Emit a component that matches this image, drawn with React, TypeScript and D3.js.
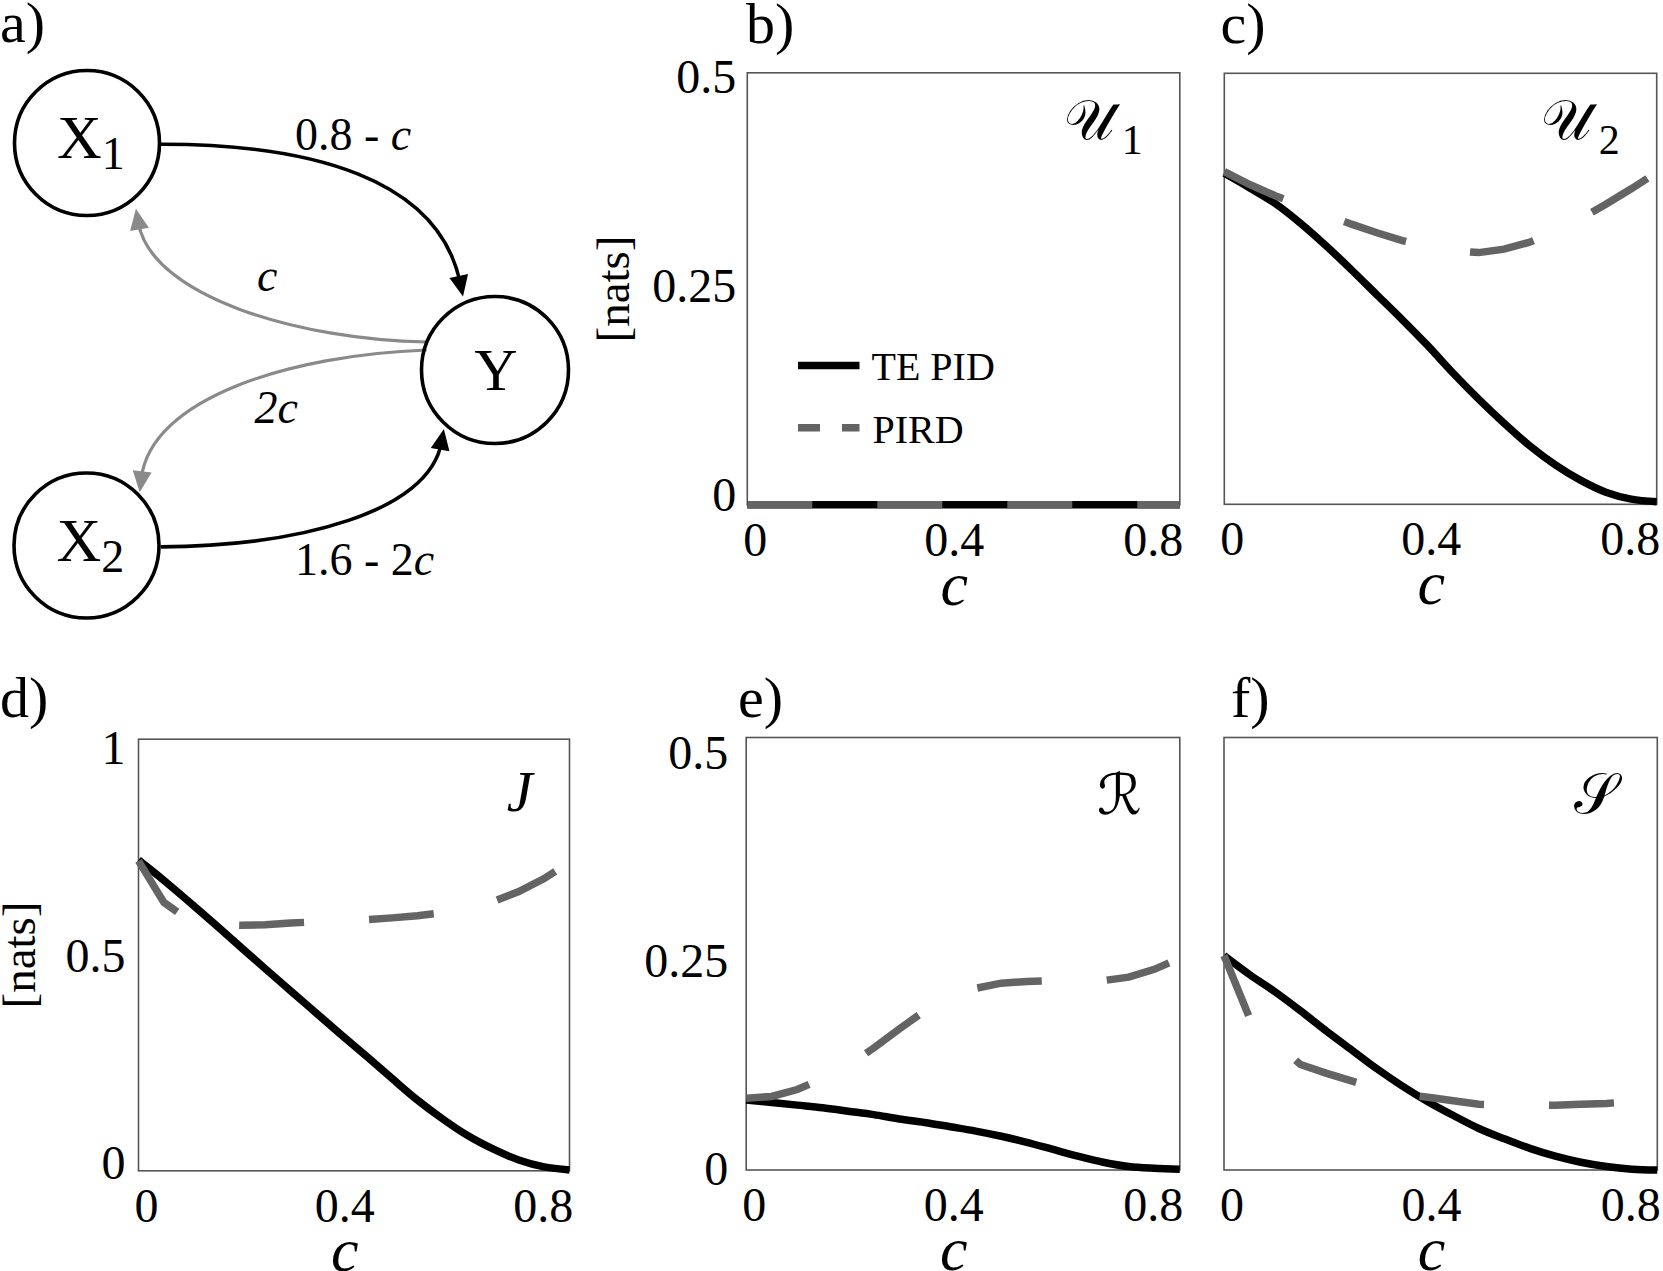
import React from "react";
import * as d3 from "d3";

// ---------- data ----------
const cValues = [0, 0.05, 0.1, 0.15, 0.2, 0.25, 0.3, 0.35, 0.4, 0.45, 0.5, 0.55, 0.6, 0.65, 0.7, 0.75, 0.8, 0.85];

const u1TePid = [0, 0, 0, 0, 0, 0, 0, 0, 0, 0, 0, 0, 0, 0, 0, 0, 0, 0];
const u1Pird = [0, 0, 0, 0, 0, 0, 0, 0, 0, 0, 0, 0, 0, 0, 0, 0, 0, 0];
const u2TePid = [0.384, 0.367, 0.349, 0.326, 0.3, 0.272, 0.243, 0.214, 0.184, 0.152, 0.122, 0.094, 0.068, 0.046, 0.028, 0.014, 0.006, 0.003];
const u2Pird = [0.386, 0.371, 0.358, 0.347, 0.336, 0.325, 0.315, 0.306, 0.299, 0.294, 0.292, 0.296, 0.304, 0.316, 0.331, 0.348, 0.366, 0.385];
const jTePid = [0.72, 0.673, 0.623, 0.572, 0.52, 0.468, 0.417, 0.366, 0.315, 0.265, 0.214, 0.164, 0.12, 0.081, 0.05, 0.025, 0.009, 0.002];
const jPird = [0.718, 0.622, 0.58, 0.571, 0.569, 0.57, 0.574, 0.577, 0.579, 0.582, 0.586, 0.591, 0.598, 0.607, 0.624, 0.647, 0.677, 0.715];
const rTePid = [0.081, 0.078, 0.075, 0.072, 0.068, 0.064, 0.059, 0.055, 0.05, 0.045, 0.039, 0.032, 0.024, 0.016, 0.009, 0.004, 0.002, 0.001];
const rPird = [0.083, 0.085, 0.093, 0.106, 0.121, 0.141, 0.163, 0.184, 0.2, 0.21, 0.216, 0.218, 0.219, 0.219, 0.219, 0.223, 0.232, 0.245];
const sTePid = [0.248, 0.226, 0.206, 0.184, 0.161, 0.139, 0.117, 0.097, 0.079, 0.063, 0.048, 0.036, 0.025, 0.016, 0.009, 0.004, 0.001, 0.0];
const sPird = [0.248, 0.176, 0.148, 0.122, 0.112, 0.103, 0.094, 0.088, 0.084, 0.08, 0.076, 0.075, 0.075, 0.075, 0.076, 0.077, 0.079, 0.081];

const xTicks = [0, 0.4, 0.8];
const xTickLabels = ["0", "0.4", "0.8"];
const yTicksHalf = [0, 0.25, 0.5];
const yTickLabelsHalf = ["0", "0.25", "0.5"];
const yTicksOne = [0, 0.5, 1];
const yTickLabelsOne = ["0", "0.5", "1"];
const seriesNames = ["TE PID", "PIRD"];
const yAxisTitle = "[nats]";
const xAxisTitle = "c";

// ---------- style ----------
const SERIF = "Liberation Serif, Times New Roman, Times, serif";
const SCRIPT = "DejaVu Serif, DejaVu Sans, Noto Sans, serif";
const GRAY = "#646464";
const LW = 7.5;
const DASH = "65 65";

type Box = { x: number; y: number; w: number; h: number };

function Panel(props: {
  box: Box;
  yMax: number;
  te: number[];
  pird: number[];
  yTicks?: number[];
  yLabels?: string[];
  yLabInset?: [number, number];
  yLabGap?: number;
  symbol: React.ReactNode;
  letter: string;
  letterPos: [number, number];
  nats?: [number, number];
  legend?: boolean;
}) {
  const { box, yMax, te, pird } = props;
  const x = d3.scaleLinear().domain([0, 0.85]).range([box.x, box.x + box.w]);
  const y = d3.scaleLinear().domain([0, yMax]).range([box.y + box.h, box.y]);
  const labX = d3.scaleLinear().domain([0, 0.8]).range([x(0) + 8, x(0.8) - 1]);
  const inset = props.yLabInset || [9, 5];
  const labY = d3.scaleLinear().domain([0, yMax]).range([box.y + box.h - inset[0], box.y + inset[1]]);
  const line = d3
    .line<number>()
    .x((_, i) => x(cValues[i]))
    .y((v) => y(v));
  const smooth = d3
    .line<number>()
    .x((_, i) => x(cValues[i]))
    .y((v) => y(v))
    .curve(d3.curveMonotoneX);
  const bottom = box.y + box.h;
  return (
    <g>
      <rect x={box.x} y={box.y} width={box.w} height={box.h} fill="none" stroke="#555" strokeWidth={1.6} />
      <path d={smooth(te) || ""} fill="none" stroke="#000" strokeWidth={LW} />
      <path d={line(pird) || ""} fill="none" stroke={GRAY} strokeWidth={LW} strokeDasharray={DASH} />
      {xTicks.map((t, i) => (
        <text key={"xt" + i} x={labX(t)} y={bottom + 51} textAnchor="middle" fontFamily={SERIF} fontSize={48}>
          {xTickLabels[i]}
        </text>
      ))}
      <text x={labX(0.4)} y={bottom + 100} textAnchor="middle" fontFamily={SERIF} fontStyle="italic" fontSize={62}>
        {xAxisTitle}
      </text>
      {props.yTicks &&
        props.yTicks.map((t, i) => (
          <text
            key={"yt" + i}
            x={box.x - (props.yLabGap || 12)}
            y={labY(t) + 16}
            textAnchor="end"
            fontFamily={SERIF}
            fontSize={48}
          >
            {props.yLabels![i]}
          </text>
        ))}
      {props.nats && (
        <text
          transform={`translate(${props.nats[0]},${props.nats[1]}) rotate(-90)`}
          textAnchor="middle"
          fontFamily={SERIF}
          fontSize={47}
        >
          {yAxisTitle}
        </text>
      )}
      <text x={props.letterPos[0]} y={props.letterPos[1]} fontFamily={SERIF} fontSize={58}>
        {props.letter}
      </text>
      {props.symbol}
      {props.legend && (
        <g>
          <line x1={798} x2={859.5} y1={365.6} y2={365.6} stroke="#000" strokeWidth={LW} />
          <text x={871.5} y={380.4} fontFamily={SERIF} fontSize={40}>
            {seriesNames[0]}
          </text>
          <line x1={798} x2={859.5} y1={427.7} y2={427.7} stroke={GRAY} strokeWidth={LW} strokeDasharray="22 22" />
          <text x={872.5} y={442.5} fontFamily={SERIF} fontSize={40}>
            {seriesNames[1]}
          </text>
        </g>
      )}
    </g>
  );
}

function UScript({ box, sub }: { box: Box; sub: string }) {
  const r = box.x + box.w;
  return (
    <g>
      <text x={r - 66} y={box.y + 66} textAnchor="end" fontFamily={SCRIPT} fontSize={56}>
        {"\u{1D4B0}"}
      </text>
      <text x={r - 37} y={box.y + 81} textAnchor="end" fontFamily={SERIF} fontSize={42}>
        {sub}
      </text>
    </g>
  );
}

// ---------- diagram (panel a) ----------
type P = [number, number];
const edges: { pts: P[]; color: string; w: number }[] = [
  { pts: [[160.7, 144.3], [310, 144], [440, 185], [463, 296.6]], color: "#000", w: 3.6 },
  { pts: [[426.7, 342], [300, 340], [150, 290], [135.9, 208.8]], color: "#8a8a8a", w: 3.2 },
  { pts: [[426.7, 350], [290, 355], [150, 405], [139.7, 492.3]], color: "#8a8a8a", w: 3.2 },
  { pts: [[160.7, 546.9], [300, 546], [430, 505], [443.9, 429]], color: "#000", w: 3.6 },
];

function Edge({ pts, color, w }: { pts: P[]; color: string; w: number }) {
  const [p0, c1, c2, e] = pts;
  const dx = e[0] - c2[0];
  const dy = e[1] - c2[1];
  const L = Math.hypot(dx, dy);
  const ux = dx / L;
  const uy = dy / L;
  const back = 14;
  const end: P = [e[0] - ux * back, e[1] - uy * back];
  const c2b: P = [c2[0] - ux * back * 0.5, c2[1] - uy * back * 0.5];
  const path = d3.path();
  path.moveTo(p0[0], p0[1]);
  path.bezierCurveTo(c1[0], c1[1], c2b[0], c2b[1], end[0], end[1]);
  const len = 21;
  const half = 9.5;
  const bx = e[0] - ux * len;
  const by = e[1] - uy * len;
  const tri = `M${e[0]},${e[1]} L${bx - uy * half},${by + ux * half} L${bx + uy * half},${by - ux * half} Z`;
  return (
    <g>
      <path d={path.toString()} fill="none" stroke={color} strokeWidth={w} />
      <path d={tri} fill={color} stroke="none" />
    </g>
  );
}

function Diagram() {
  const nodes = [
    { cx: 87, cy: 143, r: 72.5, main: "X", sub: "1" },
    { cx: 86.5, cy: 545.5, r: 72.5, main: "X", sub: "2" },
    { cx: 495, cy: 370, r: 73.5, main: "Y", sub: "" },
  ];
  return (
    <g>
      {edges.map((e, i) => (
        <Edge key={i} {...e} />
      ))}
      {nodes.map((n, i) => (
        <g key={i}>
          <circle cx={n.cx} cy={n.cy} r={n.r} fill="none" stroke="#000" strokeWidth={3.6} />
          {n.sub ? (
            <text x={n.cx - 30} y={n.cy + 15} fontFamily={SERIF} fontSize={62}>
              {n.main}
              <tspan fontSize={46} dy={11}>
                {n.sub}
              </tspan>
            </text>
          ) : (
            <text x={n.cx + 1} y={n.cy + 19.5} textAnchor="middle" fontFamily={SERIF} fontSize={60}>
              {n.main}
            </text>
          )}
        </g>
      ))}
      <text x={295} y={150} fontFamily={SERIF} fontSize={46}>
        0.8 - <tspan fontStyle="italic">c</tspan>
      </text>
      <text x={257} y={290.5} fontFamily={SERIF} fontStyle="italic" fontSize={46}>
        c
      </text>
      <text x={254.5} y={423} fontFamily={SERIF} fontStyle="italic" fontSize={46}>
        2c
      </text>
      <text x={295} y={575} fontFamily={SERIF} fontSize={46}>
        1.6 - 2<tspan fontStyle="italic">c</tspan>
      </text>
      <text x={0} y={42} fontFamily={SERIF} fontSize={58}>
        a)
      </text>
    </g>
  );
}

export default function App() {
  const bBox: Box = { x: 747.3, y: 72.8, w: 432.5, h: 432 };
  const cBox: Box = { x: 1224.3, y: 73.3, w: 432.4, h: 431 };
  const dBox: Box = { x: 138.5, y: 739.2, w: 431, h: 431.6 };
  const eBox: Box = { x: 746.2, y: 737.5, w: 433.6, h: 432.5 };
  const fBox: Box = { x: 1224, y: 737.5, w: 433.3, h: 432.5 };
  return (
    <svg
      width={1663}
      height={1271}
      viewBox="0 0 1663 1271"
      style={{ position: "absolute", left: 0, top: 0, background: "#fff" }}
    >
      <rect x={0} y={0} width={1663} height={1271} fill="#fff" />
      <Diagram />
      <Panel
        box={bBox}
        yMax={0.5}
        te={u1TePid}
        pird={u1Pird}
        yTicks={yTicksHalf}
        yLabels={yTickLabelsHalf}
        yLabInset={[9.5, 4.4]}
        yLabGap={11}
        letter="b)"
        letterPos={[746, 43]}
        nats={[629, 289]}
        legend
        symbol={<UScript box={bBox} sub="1" />}
      />
      <Panel
        box={cBox}
        yMax={0.5}
        te={u2TePid}
        pird={u2Pird}
        letter="c)"
        letterPos={[1220.5, 43]}
        symbol={<UScript box={cBox} sub="2" />}
      />
      <Panel
        box={dBox}
        yMax={1}
        te={jTePid}
        pird={jPird}
        yTicks={yTicksOne}
        yLabels={yTickLabelsOne}
        yLabInset={[7.6, 8.6]}
        yLabGap={13}
        letter="d)"
        letterPos={[0, 717]}
        nats={[35, 955]}
        symbol={
          <text x={dBox.x + dBox.w - 37} y={dBox.y + 72} textAnchor="end" fontFamily={SERIF} fontStyle="italic" fontSize={58}>
            J
          </text>
        }
      />
      <Panel
        box={eBox}
        yMax={0.5}
        te={rTePid}
        pird={rPird}
        yTicks={yTicksHalf}
        yLabels={yTickLabelsHalf}
        yLabInset={[1, 15]}
        yLabGap={18}
        letter="e)"
        letterPos={[738, 717]}
        symbol={
          <text x={eBox.x + eBox.w - 38} y={eBox.y + 76} textAnchor="end" fontFamily={SCRIPT} fontSize={56}>
            {"\u211B"}
          </text>
        }
      />
      <Panel
        box={fBox}
        yMax={0.5}
        te={sTePid}
        pird={sPird}
        letter="f)"
        letterPos={[1231, 717]}
        symbol={
          <text x={fBox.x + fBox.w - 40} y={fBox.y + 75} textAnchor="end" fontFamily={SCRIPT} fontSize={56}>
            {"\u{1D4AE}"}
          </text>
        }
      />
    </svg>
  );
}
